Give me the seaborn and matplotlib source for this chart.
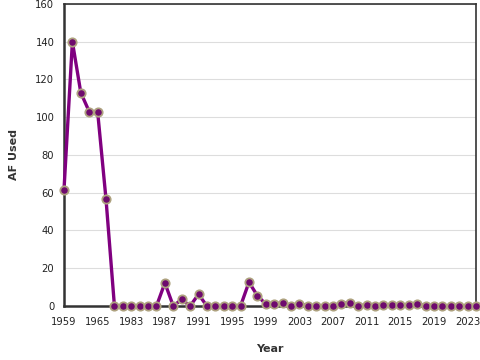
import pandas as pd
import matplotlib
matplotlib.use("Agg")
import matplotlib.pyplot as plt
import seaborn as sns

# --- data ---
years = ["1959", "1961", "1962", "1963", "1965", "1966", "1980", "1981",
         "1983", "1984", "1985", "1986", "1987", "1988", "1989", "1990",
         "1991", "1992", "1993", "1994", "1995", "1996", "1997", "1998",
         "1999", "2000", "2001", "2002", "2003", "2004", "2005", "2006",
         "2007", "2008", "2009", "2010", "2011", "2012", "2013", "2014",
         "2015", "2016", "2017", "2018", "2019", "2020", "2021", "2022",
         "2023", "2024"]
af_used = [61.5, 140, 113, 103, 103, 56.5, 0, 0,
           0, 0, 0, 0, 12.2, 0, 3.5, 0,
           6.2, 0, 0, 0, 0, 0, 12.6, 5.5,
           1.0, 1.2, 1.6, 0, 1.2, 0, 0, 0,
           0, 1.2, 1.8, 0, 0.7, 0, 0.7, 0.7,
           0.7, 0.7, 1.2, 0, 0, 0, 0, 0,
           0, 0]

df = pd.DataFrame({"Year": years, "AF Used": af_used})

sns.set_style("white")
plt.rcParams["font.family"] = ["DejaVu Sans"]

fig = plt.figure(figsize=(4.8, 3.6), dpi=100)
ax = fig.add_axes([0.1333, 0.15, 0.8583, 0.8389])

sns.lineplot(
    data=df, x="Year", y="AF Used", ax=ax, sort=False,
    color="#800080", linewidth=2.4,
    marker="o", markersize=6,
    markerfacecolor="#6e0a6e", markeredgecolor="#aea27f",
    markeredgewidth=1.3, clip_on=False, zorder=5,
)

ax.set_ylim(0, 160)
ax.set_xlim(0, len(years) - 1)
ax.set_yticks(range(0, 161, 20))
ax.set_xticks(range(0, len(years), 4))
ax.set_xticklabels(years[::4])
ax.yaxis.grid(True, color="#dddddd", linewidth=0.8)
ax.set_axisbelow(True)

ax.tick_params(axis="both", labelsize=7.2, colors="#222222", length=5,
               width=1, direction="out", pad=2)
ax.tick_params(axis="x", length=6)

for side in ["left", "bottom"]:
    ax.spines[side].set_color("#333333")
    ax.spines[side].set_linewidth(1.8)
for side in ["top", "right"]:
    ax.spines[side].set_color("#333333")
    ax.spines[side].set_linewidth(1.2)

ax.set_xlabel("Year", fontsize=8, fontweight="bold", color="#333333", labelpad=12)
ax.set_ylabel("AF Used", fontsize=8, fontweight="bold", color="#333333", labelpad=12)

plt.savefig("out.png", dpi=100)
